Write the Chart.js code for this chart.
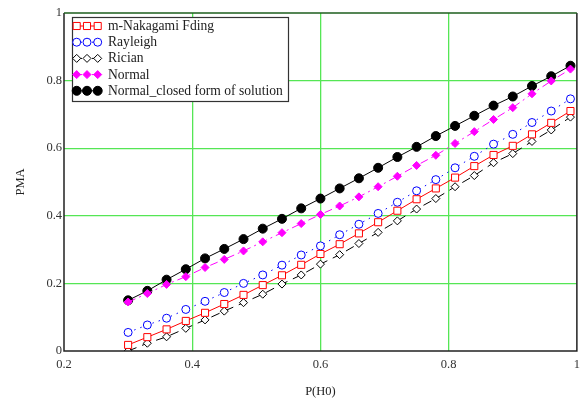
<!DOCTYPE html>
<html><head><meta charset="utf-8">
<script src="https://cdn.jsdelivr.net/npm/chart.js@4/dist/chart.umd.min.js"></script>
<style>html,body{margin:0;padding:0;background:#fff}#wrap{width:586px;height:399px}</style>
</head><body><div id="wrap"><canvas id="c"></canvas></div>
<script>
const pH0 = [0.30,0.33,0.36,0.39,0.42,0.45,0.48,0.51,0.54,0.57,0.60,0.63,0.66,0.69,0.72,0.75,0.78,0.81,0.84,0.87,0.90,0.93,0.96,0.99];
const nakagami = [0.018,0.041,0.064,0.089,0.113,0.139,0.166,0.195,0.224,0.255,0.287,0.316,0.348,0.381,0.415,0.449,0.481,0.513,0.547,0.580,0.607,0.641,0.675,0.710];
const rayleigh = [0.055,0.077,0.097,0.123,0.147,0.173,0.200,0.225,0.254,0.284,0.311,0.344,0.375,0.407,0.440,0.474,0.507,0.542,0.576,0.612,0.641,0.676,0.710,0.746];
const rician = [0.000,0.023,0.042,0.067,0.092,0.118,0.143,0.168,0.198,0.225,0.257,0.285,0.318,0.351,0.385,0.420,0.451,0.486,0.519,0.557,0.584,0.620,0.654,0.692];
const normal = [0.145,0.170,0.197,0.220,0.247,0.271,0.296,0.323,0.350,0.377,0.404,0.429,0.456,0.486,0.517,0.549,0.579,0.614,0.649,0.685,0.720,0.761,0.799,0.834];
const normalClosed = [0.150,0.178,0.211,0.242,0.274,0.302,0.331,0.362,0.391,0.422,0.451,0.481,0.511,0.542,0.574,0.604,0.636,0.666,0.696,0.726,0.753,0.784,0.813,0.844];
const seriesLabels = ['m-Nakagami Fding','Rayleigh','Rician','Normal','Normal_closed form of solution'];
const xTicks = [0.2,0.4,0.6,0.8,1];
const yTicks = [0,0.2,0.4,0.6,0.8,1];

const SERIF = '"Liberation Serif","DejaVu Serif",serif';
const pts = arr => pH0.map((x,i)=>({x:x,y:arr[i]}));

const styles = [
  {color:'#ff0000', pointStyle:'rect', fill:false, r:5, dash:[], lineColor:'#ff0000'},
  {color:'#0000ff', pointStyle:'circle', fill:false, r:4, dash:[1.5,5], lineColor:'#0000ff'},
  {color:'#000000', pointStyle:'rectRot', fill:false, r:4, dash:[9,6], lineColor:'#000000'},
  {color:'#ff00ff', pointStyle:'rectRot', fill:true, r:4, dash:[8,4,2,4], lineColor:'#ff00ff'},
  {color:'#000000', pointStyle:'circle', fill:true, r:4.5, dash:[], lineColor:'#000000'}
];
const dataArrs = [nakagami, rayleigh, rician, normal, normalClosed];

const datasets = dataArrs.map((arr,i)=>({
  label: seriesLabels[i],
  data: pts(arr),
  borderColor: styles[i].lineColor,
  borderWidth: 1,
  borderDash: styles[i].dash,
  pointStyle: styles[i].pointStyle,
  pointRadius: styles[i].r,
  pointBorderColor: styles[i].color,
  pointBackgroundColor: styles[i].fill ? styles[i].color : '#ffffff',
  pointBorderWidth: 1,
  tension: 0,
  fill: false
}));

function drawMarker(ctx, st, x, y){
  ctx.save();
  ctx.setLineDash([]);
  ctx.lineWidth = 1;
  ctx.strokeStyle = st.color;
  ctx.fillStyle = st.fill ? st.color : '#ffffff';
  const r = st.r;
  ctx.beginPath();
  if (st.pointStyle==='rect'){
    const s = r*Math.SQRT1_2*2;
    ctx.rect(x-s/2, y-s/2, s, s);
  } else if (st.pointStyle==='circle'){
    ctx.arc(x,y,r,0,Math.PI*2);
  } else {
    ctx.moveTo(x, y-r); ctx.lineTo(x+r, y); ctx.lineTo(x, y+r); ctx.lineTo(x-r, y); ctx.closePath();
  }
  ctx.fill(); ctx.stroke();
  ctx.restore();
}

const framePlugin = {
  id:'frame',
  afterDatasetsDraw(chart){
    const {ctx, chartArea:a} = chart;
    ctx.save();
    ctx.setLineDash([]);
    ctx.lineWidth = 1.5;
    ctx.strokeStyle = '#222222';
    ctx.beginPath();
    ctx.moveTo(a.left, a.top); ctx.lineTo(a.left, a.bottom); ctx.lineTo(a.right, a.bottom); ctx.lineTo(a.right, a.top);
    ctx.stroke();
    ctx.strokeStyle = '#1d5e1d';
    ctx.beginPath(); ctx.moveTo(a.left, a.top); ctx.lineTo(a.right, a.top); ctx.stroke();
    // legend
    const bx = 72, by = 17, bw = 216, bh = 84;
    ctx.fillStyle = '#ffffff';
    ctx.fillRect(bx, by, bw, bh);
    ctx.lineWidth = 1.2;
    ctx.strokeStyle = '#333333';
    ctx.strokeRect(bx+0.5, by+0.5, bw, bh);
    ctx.font = '13.6px ' + SERIF;
    ctx.textBaseline = 'middle';
    ctx.textAlign = 'left';
    chart.data.datasets.forEach((ds,i)=>{
      const st = styles[i];
      const y = 26 + i*16.2;
      ctx.save();
      ctx.strokeStyle = st.lineColor; ctx.lineWidth = 1; ctx.setLineDash(st.dash.length? [2,2]:[]);
      ctx.beginPath(); ctx.moveTo(76, y); ctx.lineTo(98, y); ctx.stroke();
      ctx.restore();
      [76.7, 87, 97.7].forEach(mx=>drawMarker(ctx, st, mx, y));
      ctx.fillStyle = '#222222';
      ctx.fillText(ds.label, 108, y+0.5);
    });
    ctx.restore();
  }
};

new Chart(document.getElementById('c'), {
  type:'line',
  data:{datasets},
  options:{
    responsive:true,
    maintainAspectRatio:false,
    animation:false,
    devicePixelRatio:1,
    layout:{padding:{top:13, right:7, left:0, bottom:0}},
    plugins:{legend:{display:false}, tooltip:{enabled:false}},
    scales:{
      x:{
        type:'linear', min:0.2, max:1,
        afterBuildTicks(s){ s.ticks = xTicks.map(v=>({value:v})); },
        afterFit(s){ s.height = 48; },
        grid:{color:(c)=> (c.tick && (c.tick.value===0.2||c.tick.value===1)) ? 'rgba(0,0,0,0)' : '#55e655', lineWidth:1.3, drawTicks:false},
        border:{display:false},
        ticks:{color:'#333333', font:{family:SERIF, size:12.5}, padding:6, maxRotation:0, autoSkip:false,
               callback:(v)=> String(+v.toFixed(1))},
        title:{display:true, text:'P(H0)', color:'#222222', font:{family:SERIF, size:12.5}, padding:{top:10,bottom:0}}
      },
      y:{
        type:'linear', min:0, max:1,
        afterBuildTicks(s){ s.ticks = yTicks.map(v=>({value:v})); },
        afterFit(s){ s.width = 64; },
        grid:{color:(c)=> (c.tick && (c.tick.value===0||c.tick.value===1)) ? 'rgba(0,0,0,0)' : '#55e655', lineWidth:1.3, drawTicks:false},
        border:{display:false},
        ticks:{color:'#333333', font:{family:SERIF, size:12.5}, padding:2, autoSkip:false,
               callback:(v)=> String(+v.toFixed(1))},
        title:{display:true, text:'PMA', color:'#222222', font:{family:SERIF, size:12.5}, padding:{top:13,bottom:0}}
      }
    }
  },
  plugins:[framePlugin]
});
</script>
</body></html>
